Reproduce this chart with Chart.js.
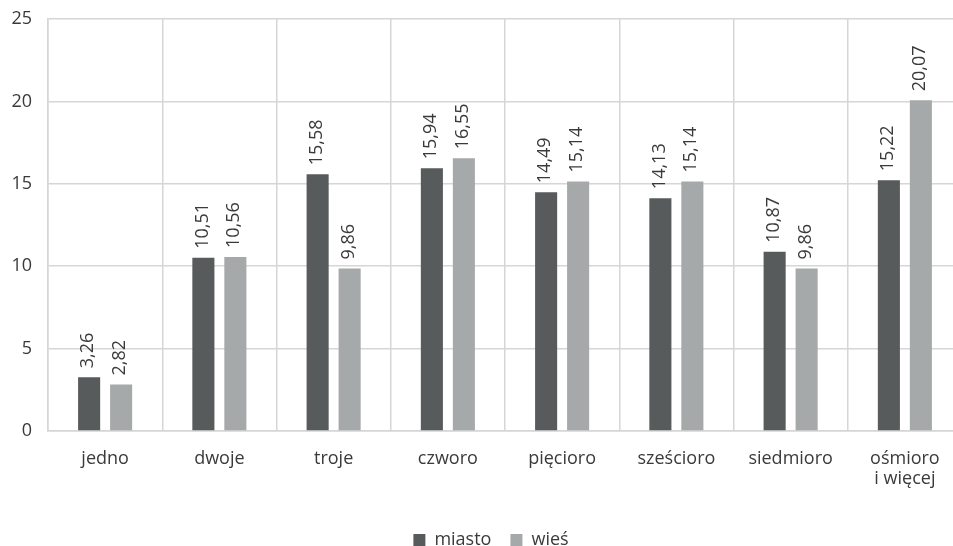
<!DOCTYPE html>
<html lang="pl">
<head>
<meta charset="utf-8">
<script src="https://cdn.jsdelivr.net/npm/chart.js@4"></script>
<style>
  html, body { margin: 0; padding: 0; background: #fff; overflow: hidden; width: 953px; height: 546px; }
  canvas { display: block; }
</style>
</head>
<body>
<canvas id="c" width="962" height="546"></canvas>
<script>
// Liczba dzieci w rodzinie
const categories = ['jedno', 'dwoje', 'troje', 'czworo', 'pięcioro', 'sześcioro', 'siedmioro', ['ośmioro', 'i więcej']];
const miasto = [3.26, 10.51, 15.58, 15.94, 14.49, 14.13, 10.87, 15.22];
const wies = [2.82, 10.56, 9.86, 16.55, 15.14, 15.14, 9.86, 20.07];
const seriesNames = ['miasto', 'wieś'];
const yTicks = [0, 5, 10, 15, 20, 25];

const FONT = "'Open Sans', sans-serif";
const TEXT = '#3a3a3a';
const GRID = '#d6d6d6';

// Pionowe etykiety wartości nad słupkami (przecinek dziesiętny)
const valueLabels = {
  id: 'valueLabels',
  afterDatasetsDraw(chart) {
    const ctx = chart.ctx;
    ctx.save();
    ctx.font = '18px ' + FONT;
    ctx.fillStyle = TEXT;
    ctx.textAlign = 'left';
    ctx.textBaseline = 'middle';
    chart.data.datasets.forEach((ds, di) => {
      chart.getDatasetMeta(di).data.forEach((bar, i) => {
        const txt = ds.data[i].toFixed(2).replace('.', ',');
        ctx.save();
        ctx.translate(bar.x - 1, bar.y - 9);
        ctx.rotate(-Math.PI / 2);
        ctx.fillText(txt, 0, 0);
        ctx.restore();
      });
    });
    ctx.restore();
  }
};

// Legenda: stała wysokość przy dolnej krawędzi, lekko przesunięta w prawo
const legendFit = {
  id: 'legendFit',
  afterInit(chart) {
    const lg = chart.legend;
    if (!lg) return;
    const origFit = lg.fit.bind(lg);
    lg.fit = function () { origFit(); this.height = 34; };
    const origDraw = lg.draw.bind(lg);
    lg.draw = function () {
      const l = this.left;
      this.left = l + 20;
      origDraw();
      this.left = l;
    };
  }
};

new Chart(document.getElementById('c'), {
  type: 'bar',
  data: {
    labels: categories,
    datasets: [
      { label: seriesNames[0], data: miasto, backgroundColor: '#575b5c' },
      { label: seriesNames[1], data: wies, backgroundColor: '#a6a9a9' }
    ]
  },
  options: {
    responsive: false,
    animation: false,
    layout: { padding: { top: 19, right: 0, left: 0, bottom: 0 } },
    datasets: { bar: { categoryPercentage: 0.56, barPercentage: 0.69 } },
    scales: {
      x: {
        grid: {
          // bez linii zamykającej po prawej stronie
          color: c => (c.index === categories.length ? 'rgba(0,0,0,0)' : GRID),
          lineWidth: 1.5, drawTicks: false, offset: true
        },
        border: { color: GRID, width: 1.5 },
        ticks: { color: TEXT, font: { family: FONT, size: 18, lineHeight: 1.1 }, padding: 18, maxRotation: 0, autoSkip: false },
        afterFit(s) { s.height = 81; s.paddingLeft = 0; s.paddingRight = 0; }
      },
      y: {
        min: 0, max: 25,
        afterBuildTicks(s) { s.ticks = yTicks.map(v => ({ value: v })); },
        grid: { color: GRID, lineWidth: 1.5, drawTicks: false },
        border: { color: GRID, width: 1.5 },
        ticks: { color: TEXT, font: { family: FONT, size: 18 }, padding: 16 },
        afterFit(s) { s.width = 48; s.paddingTop = 0; s.paddingBottom = 0; }
      }
    },
    plugins: {
      legend: {
        position: 'bottom',
        labels: { color: TEXT, font: { family: FONT, size: 18 }, boxWidth: 12, boxHeight: 12, padding: 19 }
      },
      tooltip: { enabled: false }
    }
  },
  plugins: [valueLabels, legendFit]
});
</script>
</body>
</html>
